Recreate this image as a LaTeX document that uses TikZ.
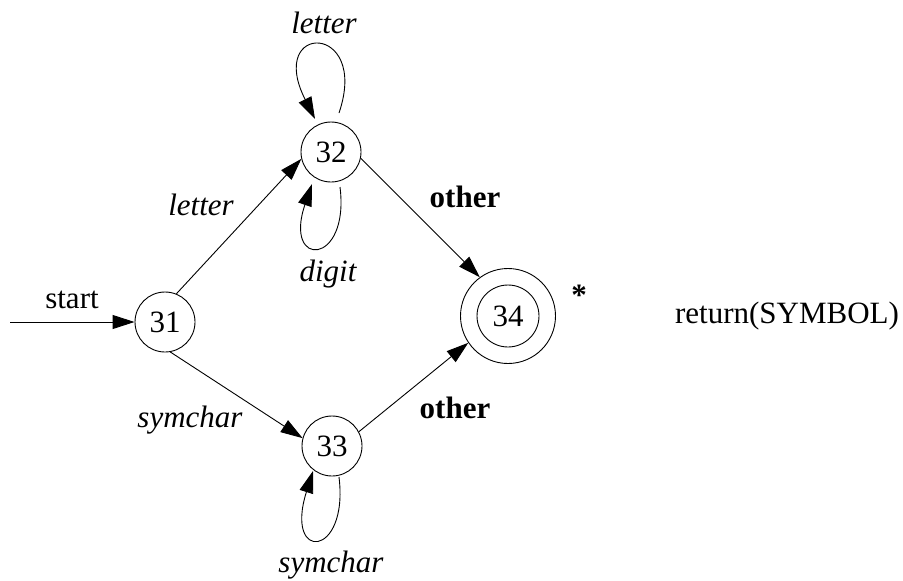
\documentclass[tikz,border=0pt]{standalone}
\usepackage{fontspec}
\setmainfont{Liberation Serif}
\usetikzlibrary{arrows.meta}
\begin{document}
\begin{tikzpicture}[x=1pt,y=-1pt,
  every node/.style={font=\fontsize{31}{36}\selectfont},
  state/.style={circle,draw,line width=0.9pt,minimum size=60pt,inner sep=0pt},
  arr/.style={-{Triangle[length=22pt,width=14pt]},line width=0.9pt},
  lab/.style={anchor=base,font=\fontsize{31}{36}\selectfont\itshape},
  blab/.style={anchor=base,font=\fontsize{31}{36}\selectfont\bfseries},
  plab/.style={anchor=base,font=\fontsize{31}{36}\selectfont}]
\useasboundingbox (0,0) rectangle (903,581);
% states
\node[state] (n31) at (165,322) {31};
\node[state] (n32) at (331,152) {32};
\node[state] (n33) at (332,446) {33};
\node[state,minimum size=95pt] (n34o) at (508,316) {};
\node[state,minimum size=62pt] (n34) at (508,316) {34};
% start
\coordinate (s0) at (10,322);
\draw[arr] (s0) -- (n31);
\node[plab] (lstart) at (72,308) {start};
% transitions
\draw[arr] (n31.68) -- (n32.193);
\draw[arr] (n31.280) -- (n33.165);
\draw[arr] (n32.348) -- (n34o.126);
\draw[arr] (n33.28) -- (n34o.214);
% loops
\coordinate (t1) at (339,113); \coordinate (h1) at (315,119);
\draw[arr] (t1) .. controls (370,22) and (266,22) .. (h1);
\coordinate (t2) at (340,187); \coordinate (h2) at (312,184);
\draw[arr] (t2) .. controls (350,266) and (283,269) .. (h2);
\coordinate (t3) at (339,477); \coordinate (h3) at (313,471);
\draw[arr] (t3) .. controls (349,558) and (284,563) .. (h3);
% labels
\node[lab] (l1) at (324,33) {letter};
\node[lab] (l2) at (201,215) {letter};
\node[lab] (l3) at (328,281) {digit};
\node[lab] (l4) at (190,427) {symchar};
\node[lab] (l5) at (331,572) {symchar};
\node[blab] (l6) at (465,207) {other};
\node[blab] (l7) at (455,418) {other};
\node[blab] (l8) at (579,305) {*};
\node[plab] (l9) at (787,323) {return(SYMBOL)};
\end{tikzpicture}
\end{document}
